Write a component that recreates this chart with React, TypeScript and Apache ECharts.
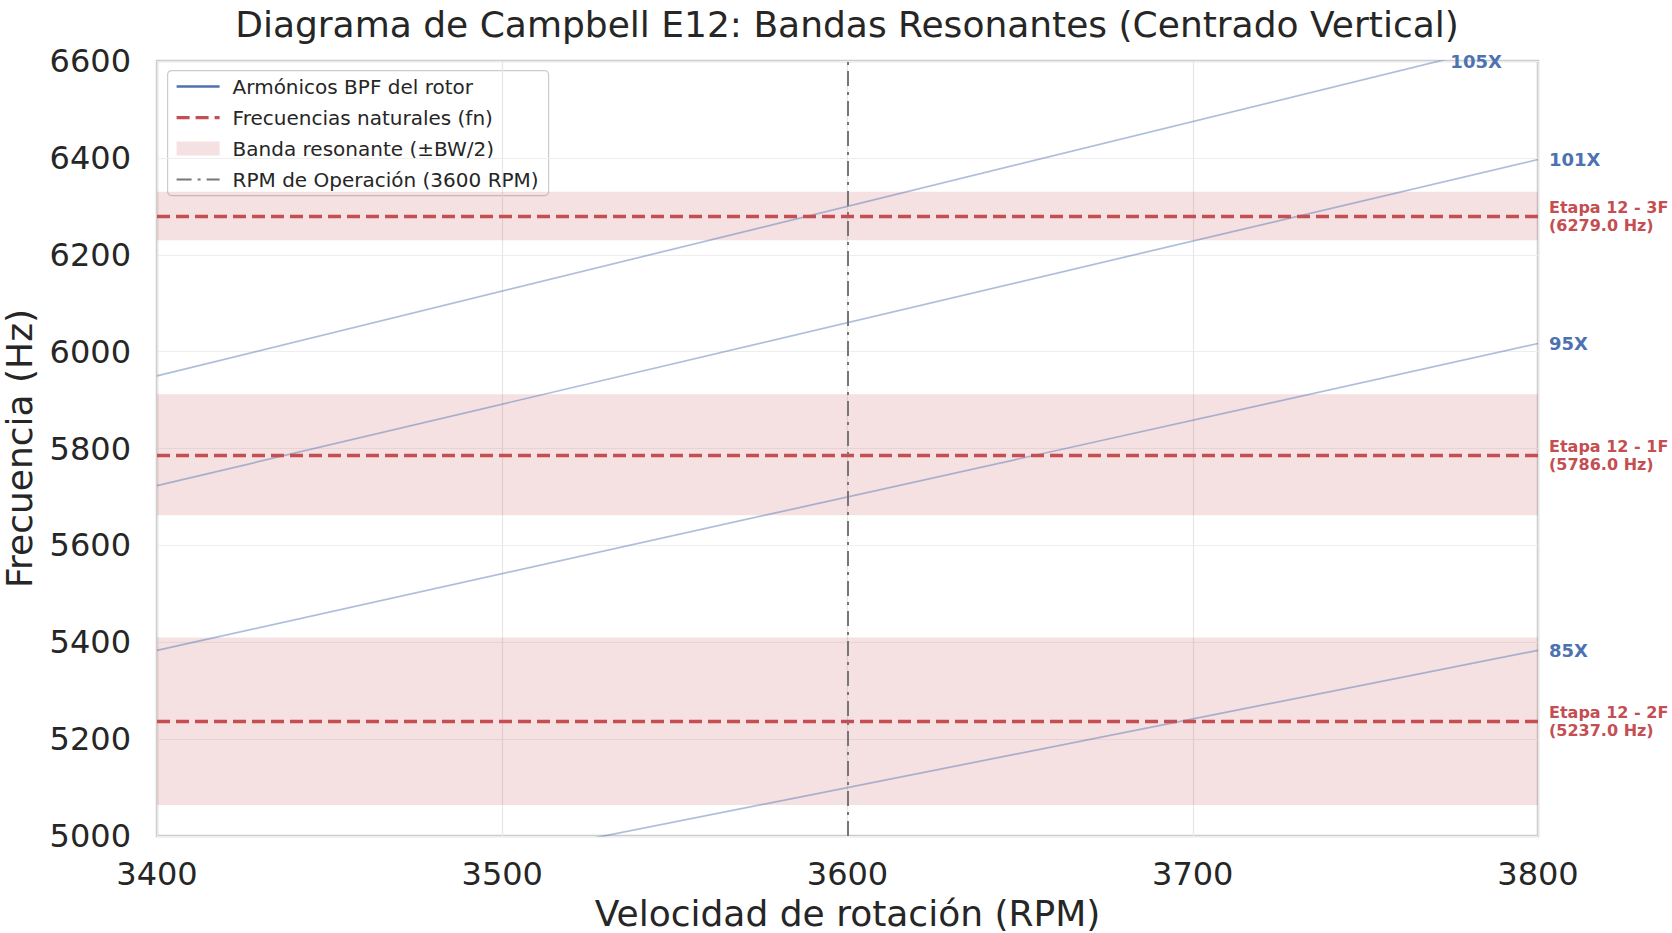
import React, { useEffect, useRef } from "react";
import * as echarts from "echarts";

const rpmRange = [3400, 3800];
const freqRange = [5000, 6600];
const harmonicOrders = ["85X", "95X", "101X", "105X"];
const harmonicStartHz = [4816.7, 5383.3, 5723.3, 5950.0];
const harmonicEndHz = [5383.3, 6016.7, 6396.7, 6650.0];
const modeNames = ["Etapa 12 - 3F", "Etapa 12 - 1F", "Etapa 12 - 2F"];
const naturalFreqs = [6279.0, 5786.0, 5237.0];
const bandLow = [6230, 5662, 5064];
const bandHigh = [6330, 5912, 5410];
const operationRpm = 3600;

const BLUE = "#4c72b0";
const RED = "#c44e52";
const FONT = "DejaVu Sans";

export default function App() {
  const ref = useRef<HTMLDivElement>(null);
  useEffect(() => {
    const chart = echarts.init(ref.current!, undefined, { renderer: "svg" });
    const [x0, x1] = rpmRange;
    const [, yMax] = freqRange;

    const harmonicSeries = harmonicOrders.map((name, i) => {
      const s = harmonicStartHz[i];
      const e = harmonicEndHz[i];
      let lx = x1;
      let ly = e;
      if (e > yMax) {
        lx = x0 + ((yMax - s) / (e - s)) * (x1 - x0);
        ly = yMax;
      }
      return {
        type: "line",
        name: "h" + name,
        data: [
          [x0, s],
          [x1, e],
        ],
        symbol: "none",
        clip: true,
        silent: true,
        lineStyle: { color: BLUE, opacity: 0.45, width: 1.7 },
        markPoint: {
          symbol: "circle",
          symbolSize: 0,
          silent: true,
          data: [{ coord: [lx, ly] }],
          label: {
            show: true,
            position: "right",
            distance: 11,
            formatter: name,
            color: BLUE,
            fontFamily: FONT,
            fontWeight: "bold",
            fontSize: 18,
          },
        },
      };
    });

    const option = {
      animation: false,
      backgroundColor: "#ffffff",
      grid: {
        left: 157,
        right: 1672 - 1538,
        top: 61,
        bottom: 933 - 836,
        containLabel: false,
        outerBoundsMode: "none",
        show: true,
        borderColor: "#cccccc",
        borderWidth: 2.5,
        backgroundColor: "transparent",
      },
      xAxis: {
        type: "value",
        min: rpmRange[0],
        max: rpmRange[1],
        interval: 100,
        name: "Velocidad de rotación (RPM)",
        nameLocation: "middle",
        nameGap: 59,
        nameTextStyle: { fontFamily: FONT, fontSize: 36, color: "#262626" },
        axisLine: { show: false },
        axisTick: { show: false },
        axisLabel: {
          fontFamily: FONT,
          fontSize: 32,
          color: "#262626",
          margin: 22,
          formatter: (v: number) => String(v),
        },
        splitLine: { show: true, lineStyle: { color: "#e6e6e6", width: 1.2 } },
      },
      yAxis: {
        type: "value",
        min: freqRange[0],
        max: freqRange[1],
        interval: 200,
        name: "Frecuencia (Hz)",
        nameLocation: "middle",
        nameGap: 120,
        nameTextStyle: { fontFamily: FONT, fontSize: 36, color: "#262626" },
        axisLine: { show: false },
        axisTick: { show: false },
        axisLabel: {
          fontFamily: FONT,
          fontSize: 32,
          color: "#262626",
          margin: 26,
          formatter: (v: number) => String(v),
        },
        splitLine: { show: true, lineStyle: { color: "#eeeeee", width: 1.2 } },
      },
      series: [
        {
          type: "line",
          name: "bands",
          data: [],
          silent: true,
          markArea: {
            silent: true,
            itemStyle: { color: RED, opacity: 0.17 },
            data: naturalFreqs.map((_, i) => [
              { yAxis: bandLow[i] },
              { yAxis: bandHigh[i] },
            ]),
          },
        },
        ...harmonicSeries,
        {
          type: "line",
          name: "fn",
          data: [],
          silent: true,
          markLine: {
            silent: true,
            symbol: ["none", "none"],
            lineStyle: { color: RED, width: 3.4, type: [13, 6], opacity: 1 },
            label: {
              show: true,
              position: "end",
              distance: 11,
              color: RED,
              fontFamily: FONT,
              fontWeight: "bold",
              fontSize: 16,
              lineHeight: 18,
              align: "left",
            },
            data: naturalFreqs.map((f, i) => ({
              yAxis: f,
              label: { formatter: `${modeNames[i]}\n(${f.toFixed(1)} Hz)` },
            })),
          },
        },
        {
          type: "line",
          name: "op",
          data: [],
          silent: true,
          markLine: {
            silent: true,
            symbol: ["none", "none"],
            label: { show: false },
            lineStyle: { color: "#777777", width: 2, type: [15, 6, 3, 6], opacity: 1 },
            data: [{ xAxis: operationRpm }],
          },
        },
      ],
      graphic: [
        {
          type: "text",
          x: 847,
          y: 24,
          style: {
            text: "Diagrama de Campbell E12: Bandas Resonantes (Centrado Vertical)",
            fontFamily: FONT,
            fontSize: 36,
            fill: "#262626",
            textAlign: "center",
            textVerticalAlign: "middle",
          },
        },
        {
          type: "group",
          left: 167,
          top: 70,
          children: [
            {
              type: "rect",
              shape: { x: 0, y: 0, width: 381, height: 125, r: 4 },
              style: { fill: "rgba(255,255,255,0.85)", stroke: "#cccccc", lineWidth: 1.2 },
            },
            {
              type: "line",
              shape: { x1: 9, y1: 16, x2: 52, y2: 16 },
              style: { stroke: BLUE, lineWidth: 2.5 },
            },
            {
              type: "line",
              shape: { x1: 9, y1: 47, x2: 52, y2: 47 },
              style: { stroke: RED, lineWidth: 3.4, lineDash: [13, 6] },
            },
            {
              type: "rect",
              shape: { x: 9, y: 71, width: 43, height: 14 },
              style: { fill: RED, opacity: 0.17 },
            },
            {
              type: "line",
              shape: { x1: 9, y1: 109, x2: 52, y2: 109 },
              style: { stroke: "#777777", lineWidth: 2, lineDash: [15, 6, 3, 6] },
            },
            ...[
              "Armónicos BPF del rotor",
              "Frecuencias naturales (fn)",
              "Banda resonante (±BW/2)",
              "RPM de Operación (3600 RPM)",
            ].map((t, i) => ({
              type: "text",
              x: 65,
              y: 16 + i * 31,
              style: {
                text: t,
                fontFamily: FONT,
                fontSize: 20,
                fill: "#262626",
                textVerticalAlign: "middle",
              },
            })),
          ],
        },
      ],
    };
    chart.setOption(option as any);
    return () => chart.dispose();
  }, []);
  return (
    <div
      ref={ref}
      style={{ position: "fixed", left: 0, top: 0, width: 1672, height: 933 }}
    />
  );
}
